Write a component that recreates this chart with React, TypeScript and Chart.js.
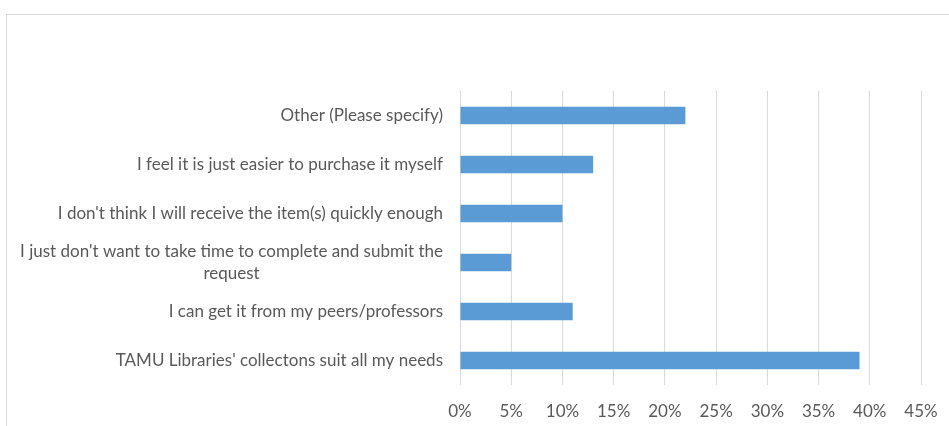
import React, { useEffect, useRef } from "react";
import { Chart, registerables } from "chart.js";

Chart.register(...registerables);

const categories: (string | string[])[] = [
  "Other (Please specify)",
  "I feel it is just easier to purchase it myself",
  "I don't think I will receive the item(s) quickly enough",
  ["I just don't want to take time to complete and submit the", "request"],
  "I can get it from my peers/professors",
  "TAMU Libraries' collectons suit all my needs",
];
const values = [22, 13, 10, 5, 11, 39];
const xTicks = [0, 5, 10, 15, 20, 25, 30, 35, 40, 45];

const FONT = "Lato, 'Open Sans', sans-serif";
const FONT_SIZE = 17;
const TEXT_COLOR = "#595959";

const yLabelPlugin = {
  id: "yLabelBlock",
  afterDraw(chart: any) {
    const scale = chart.scales.y;
    const ctx = chart.ctx;
    ctx.save();
    ctx.font = `${FONT_SIZE}px ${FONT}`;
    ctx.fillStyle = TEXT_COLOR;
    ctx.textAlign = "center";
    ctx.textBaseline = "middle";
    const lineH = 22;
    categories.forEach((lab, i) => {
      const lines = Array.isArray(lab) ? lab : [lab];
      const y = scale.getPixelForTick(i);
      const w = Math.max(...lines.map((l) => ctx.measureText(l).width));
      const right = scale.right - 17;
      const cx = right - w / 2;
      const y0 = y - ((lines.length - 1) * lineH) / 2;
      lines.forEach((l, k) => ctx.fillText(l, cx, y0 + k * lineH));
    });
    ctx.restore();
  },
};

export default function App() {
  const ref = useRef<HTMLCanvasElement>(null);
  useEffect(() => {
    const chart = new Chart(ref.current!, {
      type: "bar",
      data: {
        labels: categories,
        datasets: [
          {
            data: values,
            backgroundColor: "#5b9bd5",
            borderWidth: 0,
            categoryPercentage: 1,
            barPercentage: 0.36,
          },
        ],
      },
      plugins: [yLabelPlugin],
      options: {
        indexAxis: "y",
        responsive: true,
        maintainAspectRatio: false,
        animation: false,
        layout: { padding: { top: 91, right: 28, left: 0, bottom: 0 } },
        plugins: { legend: { display: false }, tooltip: { enabled: false } },
        scales: {
          x: {
            min: 0,
            max: 45,
            afterBuildTicks: (s: any) => {
              s.ticks = xTicks.map((v) => ({ value: v }));
            },
            afterFit: (s: any) => {
              s.height = 41;
              s.paddingRight = 0;
              s.paddingLeft = 0;
            },
            grid: { color: "#d9d9d9", lineWidth: 1, drawTicks: false },
            border: { display: false },
            ticks: {
              padding: 16,
              color: TEXT_COLOR,
              font: { family: FONT, size: FONT_SIZE },
              callback: (v: any) => `${v}%`,
              maxRotation: 0,
            },
          },
          y: {
            afterFit: (s: any) => {
              s.width = 460;
            },
            grid: { display: false },
            border: { display: false },
            ticks: { display: false },
          },
        },
      },
    });
    return () => chart.destroy();
  }, []);
  return (
    <div style={{ position: "fixed", left: 0, top: 0, width: 949, height: 426, overflow: "hidden", background: "#fff" }}>
      <div
        style={{
          position: "absolute",
          left: 6,
          top: 14,
          width: 1000,
          height: 500,
          border: "1px solid #d9d9d9",
          boxSizing: "border-box",
        }}
      />
      <div style={{ position: "absolute", left: 0, top: 0, width: 949, height: 426 }}>
        <canvas ref={ref} />
      </div>
    </div>
  );
}
